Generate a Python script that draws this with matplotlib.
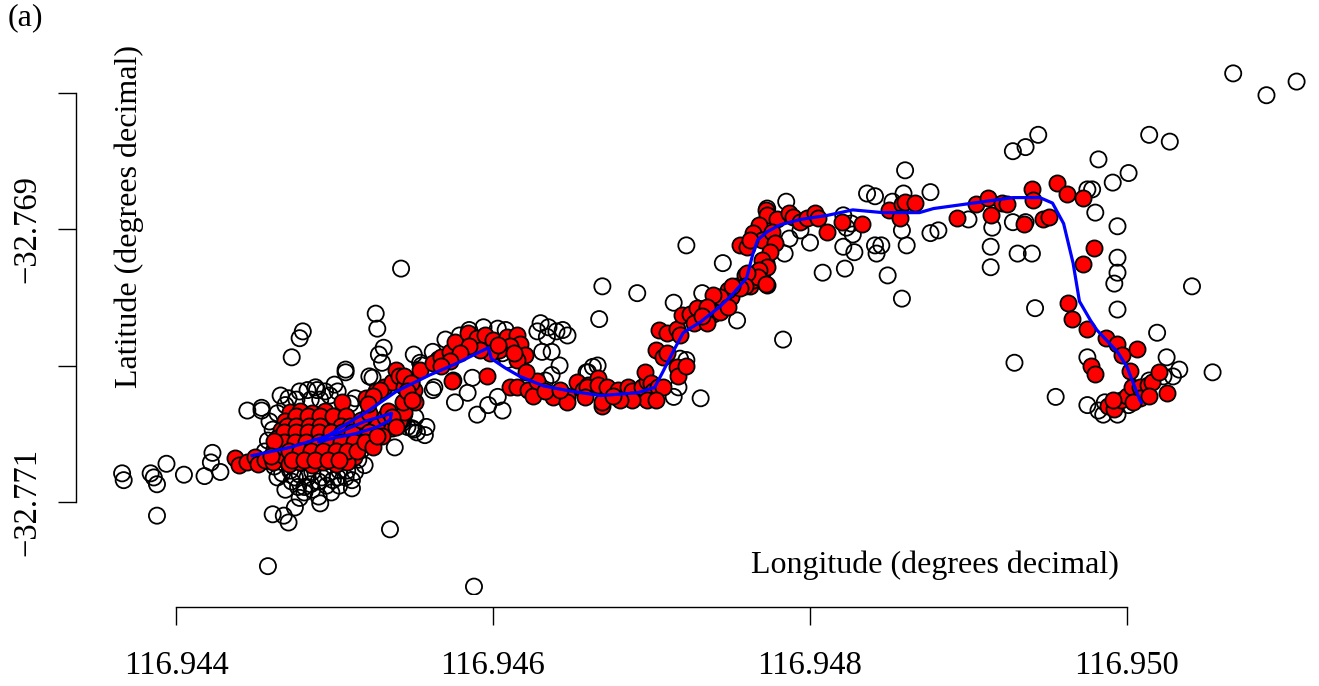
import matplotlib
matplotlib.use("Agg")
import matplotlib.pyplot as plt

plt.rcParams["font.family"] = ["Liberation Serif", "DejaVu Serif"]

# all raw GPS fixes (open circles)
open_lon = [
    116.94366, 116.94367, 116.94384, 116.94386, 116.94388, 116.94394, 116.94405, 116.94418, 116.94423, 116.94422,
    116.94428, 116.94388, 116.94445, 116.94454, 116.94458, 116.94588, 116.94535, 116.94461, 116.94468, 116.94471,
    116.94475, 116.94478, 116.94480, 116.94473, 116.94526, 116.94527, 116.94531, 116.94528, 116.94530, 116.94507,
    116.94542, 116.94471, 116.94483, 116.94488, 116.94500, 116.94507, 116.94522, 116.94454, 116.94464, 116.94461,
    116.94469, 116.94476, 116.94491, 116.94497, 116.94510, 116.94494, 116.94489, 116.94477, 116.94481, 116.94490,
    116.94491, 116.94511, 116.94511, 116.94502, 116.94492, 116.94483, 116.94475, 116.94467, 116.94462, 116.94515,
    116.94478, 116.94486, 116.94496, 116.94503, 116.94473, 116.94485, 116.94495, 116.94503, 116.94481, 116.94498,
    116.94458, 116.94456, 116.94459, 116.94516, 116.94517, 116.94519, 116.94514, 116.94507, 116.94469, 116.94538,
    116.94536, 116.94543, 116.94550, 116.94558, 116.94555, 116.94550, 116.94562, 116.94524, 116.94543, 116.94549,
    116.94551, 116.94563, 116.94576, 116.94584, 116.94590, 116.94597, 116.94603, 116.94606, 116.94575, 116.94587,
    116.94594, 116.94603, 116.94630, 116.94635, 116.94640, 116.94628, 116.94634, 116.94644, 116.94647, 116.94637,
    116.94631, 116.94666, 116.94660, 116.94637, 116.94546, 116.94552, 116.94557, 116.94544, 116.94554, 116.94562,
    116.94606, 116.94609, 116.94570, 116.94579, 116.94585, 116.94608, 116.94642, 116.94633, 116.94669, 116.94691,
    116.94667, 116.94714, 116.94754, 116.94783, 116.94731, 116.94714, 116.94718, 116.94722, 116.94663, 116.94659,
    116.94717, 116.94745, 116.94732, 116.94722, 116.94860, 116.94836, 116.94841, 116.94852, 116.94859, 116.94785,
    116.94773, 116.94800, 116.94821, 116.94823, 116.94827, 116.94821, 116.94828, 116.94841, 116.94845, 116.94842,
    116.94858, 116.94861, 116.94808, 116.94822, 116.94849, 116.94858, 116.94794, 116.94787, 116.94784, 116.94826,
    116.94944, 116.94928, 116.94936, 116.94982, 116.94991, 116.94978, 116.94975, 116.94876, 116.94980, 116.94994,
    116.94900, 116.94876, 116.94881, 116.94915, 116.94928, 116.94936, 116.94914, 116.94931, 116.94940, 116.94914,
    116.94994, 116.94994, 116.94992, 116.94942, 116.94994, 116.95041, 116.95019, 116.94929, 116.94975, 116.95025,
    116.95033, 116.95029, 116.95054, 116.94955, 116.94975, 116.94982, 116.94986, 116.94985, 116.94994, 116.95001,
    116.95014, 116.95023, 116.95067, 116.95088, 116.95107, 116.95014, 116.95027, 116.95001,
    116.94464, 116.94472, 116.94490, 116.94499, 116.94508, 116.94513, 116.94478, 116.94486,
    116.94466, 116.94478, 116.94502, 116.94513, 116.94485,
]
open_lat = [
    -32.77079, -32.77084, -32.77079, -32.77082, -32.77087, -32.77072, -32.77080, -32.77081, -32.77064, -32.77071,
    -32.77078, -32.77110, -32.77033, -32.77033, -32.77147, -32.77162, -32.77120, -32.77109, -32.77110, -32.77115,
    -32.77104, -32.76980, -32.76975, -32.76994, -32.76962, -32.76973, -32.76987, -32.76992, -32.76998, -32.77003,
    -32.76929, -32.77024, -32.77018, -32.77016, -32.77014, -32.77005, -32.77008, -32.77031, -32.77035, -32.77047,
    -32.77029, -32.77025, -32.77025, -32.77022, -32.77028, -32.77019, -32.77018, -32.77089, -32.77089, -32.77096,
    -32.77101, -32.77084, -32.77090, -32.77082, -32.77082, -32.77082, -32.77082, -32.77079, -32.77074, -32.77069,
    -32.77080, -32.77078, -32.77079, -32.77077, -32.77085, -32.77087, -32.77088, -32.77088, -32.77093, -32.77093,
    -32.77055, -32.77063, -32.77041, -32.77052, -32.77062, -32.77073, -32.77044, -32.77082, -32.77091, -32.77060,
    -32.77040, -32.77042, -32.77047, -32.77045, -32.77000, -32.76992, -32.77018, -32.77009, -32.77040, -32.77046,
    -32.77038, -32.77016, -32.77027, -32.77020, -32.77036, -32.77029, -32.77023, -32.77033, -32.77011, -32.77009,
    -32.76972, -32.76973, -32.76969, -32.76972, -32.76975, -32.76975, -32.76979, -32.76974, -32.76978, -32.76990,
    -32.76990, -32.77000, -32.77005, -32.77007, -32.77045, -32.77049, -32.77051, -32.77036, -32.76998, -32.76990,
    -32.76991, -32.76996, -32.76981, -32.76978, -32.76974, -32.76974, -32.77000, -32.77011, -32.76942, -32.76947,
    -32.76966, -32.76954, -32.76967, -32.76981, -32.77024, -32.77023, -32.76995, -32.76996, -32.77001, -32.77005,
    -32.77016, -32.76925, -32.76947, -32.76912, -32.76857, -32.76874, -32.76876, -32.76880, -32.76874, -32.76880,
    -32.76885, -32.76910, -32.76890, -32.76899, -32.76904, -32.76913, -32.76917, -32.76912, -32.76912, -32.76918,
    -32.76901, -32.76912, -32.76932, -32.76929, -32.76934, -32.76951, -32.76901, -32.76907, -32.76918, -32.76896,
    -32.76831, -32.76843, -32.76840, -32.76849, -32.76866, -32.76871, -32.76871, -32.76873, -32.76888, -32.76898,
    -32.76893, -32.76903, -32.76901, -32.76899, -32.76895, -32.76895, -32.76913, -32.76918, -32.76918, -32.76928,
    -32.76921, -32.76932, -32.76940, -32.76958, -32.76959, -32.76942, -32.76976, -32.76998, -32.76994, -32.76994,
    -32.77003, -32.77008, -32.77005, -32.77023, -32.77029, -32.77033, -32.77027, -32.77036, -32.77036, -32.77029,
    -32.77011, -32.77008, -32.76786, -32.76802, -32.76792, -32.76831, -32.76836, -32.76859,
    -32.77082, -32.77077, -32.77085, -32.77084, -32.77077, -32.77078, -32.77097, -32.77091,
    -32.77022, -32.77019, -32.77019, -32.77024, -32.77025,
]

# fixes kept after filtering (red)
kept_lon = [
    116.94437, 116.94440, 116.94445, 116.94450, 116.94452, 116.94456, 116.94461,
    116.94472, 116.94478, 116.94486, 116.94494, 116.94502,
    116.94469, 116.94475, 116.94482, 116.94490, 116.94498, 116.94505, 116.94511,
    116.94466, 116.94473, 116.94479, 116.94487, 116.94495, 116.94502, 116.94509, 116.94514,
    116.94464, 116.94471, 116.94478, 116.94485, 116.94493, 116.94500, 116.94507, 116.94513,
    116.94466, 116.94473, 116.94480, 116.94488, 116.94495, 116.94502, 116.94510, 116.94516,
    116.94468, 116.94476, 116.94483, 116.94490, 116.94498, 116.94505, 116.94512,
    116.94471, 116.94478, 116.94486, 116.94493, 116.94501, 116.94508, 116.94505, 116.94462,
    116.94476, 116.94483, 116.94491, 116.94499, 116.94507,
    116.94470, 116.94476, 116.94484, 116.94491, 116.94504, 116.94510,
    116.94468, 116.94476, 116.94483, 116.94490, 116.94498, 116.94505, 116.94511,
    116.94468, 116.94475, 116.94482, 116.94490, 116.94497, 116.94504, 116.94512,
    116.94471, 116.94478, 116.94485, 116.94493, 116.94501, 116.94508, 116.94514,
    116.94473, 116.94481, 116.94488, 116.94496, 116.94503, 116.94462, 116.94460,
    116.94517, 116.94522, 116.94527, 116.94532, 116.94536, 116.94541, 116.94544, 116.94530, 116.94522, 116.94519,
    116.94524, 116.94534, 116.94520, 116.94526, 116.94531, 116.94536, 116.94539, 116.94541, 116.94548, 116.94544,
    116.94550, 116.94546, 116.94543, 116.94554, 116.94551, 116.94529, 116.94524, 116.94521, 116.94536, 116.94539,
    116.94527, 116.94565, 116.94562,
    116.94567, 116.94573, 116.94576, 116.94584, 116.94590, 116.94595, 116.94600, 116.94609, 116.94615, 116.94617,
    116.94611, 116.94604, 116.94598, 116.94592, 116.94585, 116.94579, 116.94573, 116.94567, 116.94620, 116.94615,
    116.94613, 116.94603, 116.94574, 116.94596, 116.94611, 116.94615, 116.94622, 116.94625, 116.94628, 116.94621,
    116.94638, 116.94647, 116.94647, 116.94653, 116.94657, 116.94660, 116.94666, 116.94669, 116.94544, 116.94548,
    116.94546, 116.94549, 116.94633, 116.94642,
    116.94659, 116.94658, 116.94666, 116.94672, 116.94679, 116.94685, 116.94688, 116.94694, 116.94697, 116.94696,
    116.94700, 116.94701, 116.94704, 116.94707, 116.94697, 116.94703, 116.94688, 116.94680, 116.94669, 116.94676,
    116.94703, 116.94707, 116.94710, 116.94716, 116.94717, 116.94722, 116.94705, 116.94710, 116.94716, 116.94718,
    116.94719, 116.94724, 116.94729, 116.94734, 116.94739, 116.94741, 116.94745, 116.94750, 116.94748, 116.94754,
    116.94759, 116.94762, 116.94764, 116.94770, 116.94772, 116.94773, 116.94727, 116.94735, 116.94743,
    116.94772, 116.94773, 116.94779, 116.94787, 116.94789, 116.94768, 116.94764, 116.94770, 116.94756, 116.94760,
    116.94762, 116.94776, 116.94778, 116.94775, 116.94770, 116.94773, 116.94768, 116.94767, 116.94772, 116.94760,
    116.94759, 116.94756, 116.94751, 116.94743, 116.94748, 116.94739, 116.94735, 116.94732, 116.94794, 116.94798,
    116.94803, 116.94805, 116.94811, 116.94820, 116.94833, 116.94850, 116.94858, 116.94860, 116.94866, 116.94857,
    116.94893, 116.94905, 116.94912, 116.94914, 116.94921, 116.94924, 116.94940, 116.94941, 116.94935, 116.94947,
    116.94951, 116.94956, 116.94962, 116.94972, 116.94979, 116.94972, 116.94963, 116.94965,
    116.94975, 116.94987, 116.94994, 116.94997, 116.95006, 116.94977, 116.94980, 116.95002, 116.94988, 116.94992,
    116.94996, 116.95000, 116.95003, 116.95008, 116.95013, 116.95016, 116.95020, 116.95025, 116.95008, 116.95004,
    116.95014, 116.94991,
]
kept_lat = [
    -32.77068, -32.77073, -32.77071, -32.77067, -32.77072, -32.77069, -32.77071,
    -32.77034, -32.77033, -32.77035, -32.77033, -32.77036,
    -32.77041, -32.77039, -32.77041, -32.77038, -32.77041, -32.77039, -32.77042,
    -32.77047, -32.77046, -32.77048, -32.77045, -32.77047, -32.77046, -32.77048, -32.77045,
    -32.77053, -32.77052, -32.77054, -32.77052, -32.77053, -32.77051, -32.77053, -32.77052,
    -32.77060, -32.77058, -32.77060, -32.77058, -32.77060, -32.77058, -32.77060, -32.77058,
    -32.77066, -32.77065, -32.77067, -32.77064, -32.77066, -32.77065, -32.77067,
    -32.77072, -32.77071, -32.77073, -32.77071, -32.77072, -32.77071, -32.77027, -32.77061,
    -32.77037, -32.77037, -32.77037, -32.77037, -32.77037,
    -32.77044, -32.77044, -32.77044, -32.77044, -32.77044, -32.77044,
    -32.77049, -32.77049, -32.77049, -32.77049, -32.77049, -32.77049, -32.77049,
    -32.77056, -32.77056, -32.77056, -32.77056, -32.77056, -32.77056, -32.77056,
    -32.77063, -32.77063, -32.77063, -32.77063, -32.77063, -32.77063, -32.77063,
    -32.77069, -32.77069, -32.77069, -32.77069, -32.77069, -32.77055, -32.77066,
    -32.77040, -32.77035, -32.77044, -32.77038, -32.77046, -32.77041, -32.77034, -32.77052, -32.77049, -32.77056,
    -32.77060, -32.77033, -32.77024, -32.77019, -32.77016, -32.77012, -32.77003, -32.77008, -32.77011, -32.77016,
    -32.77018, -32.77023, -32.77027, -32.77003, -32.77027, -32.77018, -32.77022, -32.77028, -32.77038, -32.77045,
    -32.77052, -32.76995, -32.76998,
    -32.76994, -32.76990, -32.76983, -32.76976, -32.76980, -32.76978, -32.76981, -32.76979, -32.76978, -32.76984,
    -32.76986, -32.76989, -32.76991, -32.76989, -32.76986, -32.76991, -32.76997, -32.77000, -32.76992, -32.76996,
    -32.76991, -32.76985, -32.77011, -32.77008, -32.77016, -32.77016, -32.77018, -32.77022, -32.77011, -32.77005,
    -32.77023, -32.77022, -32.77027, -32.77012, -32.77018, -32.77014, -32.77009, -32.77030, -32.77008, -32.77013,
    -32.77019, -32.77025, -32.77019, -32.77018,
    -32.77016, -32.77023, -32.77014, -32.77016, -32.77018, -32.77016, -32.77019, -32.77016, -32.77011, -32.77005,
    -32.77013, -32.77019, -32.77016, -32.77016, -32.77025, -32.77025, -32.77025, -32.77025, -32.77027, -32.77022,
    -32.76989, -32.76994, -32.76991, -32.77001, -32.77008, -32.77000, -32.76974, -32.76976, -32.76973, -32.76978,
    -32.76963, -32.76962, -32.76958, -32.76964, -32.76962, -32.76952, -32.76957, -32.76950, -32.76945, -32.76942,
    -32.76934, -32.76942, -32.76937, -32.76932, -32.76925, -32.76941, -32.76969, -32.76969, -32.76961,
    -32.76886, -32.76890, -32.76893, -32.76888, -32.76891, -32.76897, -32.76903, -32.76908, -32.76912, -32.76913,
    -32.76908, -32.76902, -32.76910, -32.76917, -32.76923, -32.76928, -32.76930, -32.76935, -32.76940, -32.76932,
    -32.76942, -32.76943, -32.76942, -32.76950, -32.76957, -32.76948, -32.76957, -32.76964, -32.76895, -32.76892,
    -32.76888, -32.76892, -32.76902, -32.76895, -32.76896, -32.76886, -32.76882, -32.76880, -32.76881, -32.76892,
    -32.76892, -32.76882, -32.76877, -32.76890, -32.76881, -32.76882, -32.76871, -32.76879, -32.76896, -32.76893,
    -32.76891, -32.76866, -32.76874, -32.76877, -32.76914, -32.76926, -32.76954, -32.76966,
    -32.76973, -32.76980, -32.76984, -32.76992, -32.76988, -32.77000, -32.77006, -32.77004, -32.77030, -32.77032,
    -32.77025, -32.77022, -32.77016, -32.77016, -32.77014, -32.77012, -32.77005, -32.77020, -32.77024, -32.77027,
    -32.77022, -32.77025,
]

# smoothed track (blue line)
track_lon = [
    116.94448, 116.94472, 116.94486, 116.94503, 116.94519, 116.94536, 116.94535, 116.94527, 116.94513, 116.94500,
    116.94490, 116.94503, 116.94519, 116.94539, 116.94560, 116.94576, 116.94597, 116.94599, 116.94608, 116.94617,
    116.94632, 116.94650, 116.94668, 116.94691, 116.94702, 116.94707, 116.94714, 116.94720, 116.94731, 116.94743,
    116.94751, 116.94760, 116.94764, 116.94767, 116.94773, 116.94781, 116.94794, 116.94811, 116.94827, 116.94846,
    116.94869, 116.94878, 116.94903, 116.94928, 116.94945, 116.94953, 116.94960, 116.94966, 116.94970, 116.94977,
    116.94981, 116.94994, 116.95000, 116.95004, 116.95008, 116.95009,
]
track_lat = [
    -32.77066, -32.77060, -32.77055, -32.77049, -32.77041, -32.77035, -32.77040, -32.77045, -32.77050, -32.77053,
    -32.77056, -32.77046, -32.77035, -32.77019, -32.77007, -32.76999, -32.76987, -32.76995, -32.77002, -32.77008,
    -32.77015, -32.77019, -32.77022, -32.77020, -32.77016, -32.77005, -32.76989, -32.76976, -32.76968, -32.76957,
    -32.76948, -32.76936, -32.76918, -32.76908, -32.76902, -32.76897, -32.76893, -32.76890, -32.76886, -32.76888,
    -32.76888, -32.76885, -32.76881, -32.76877, -32.76877, -32.76881, -32.76896, -32.76925, -32.76953, -32.76967,
    -32.76974, -32.76990, -32.77001, -32.77013, -32.77025, -32.77027,
]

x_ticks = [116.944, 116.946, 116.948, 116.950]
x_labels = ["116.944", "116.946", "116.948", "116.950"]
y_ticks = [-32.771, -32.770, -32.769, -32.768]
y_labels = ["\u221232.771", "", "\u221232.769", ""]


def gerar_grafico():
    fig = plt.figure(figsize=(13.19, 6.86), dpi=100)
    ax = fig.add_axes([100 / 1319, 91 / 686, 1210 / 1319, 535 / 686])

    ax.scatter(open_lon, open_lat, s=135, facecolors="none",
               edgecolors="black", linewidths=1.3, zorder=2)
    ax.scatter(kept_lon, kept_lat, s=135, facecolors="red",
               edgecolors="black", linewidths=1.3, zorder=3)
    ax.plot(track_lon, track_lat, color="blue", lw=2.3, zorder=4)

    ax.set_xlim(116.9435205, 116.9511546)
    ax.set_ylim(-32.7716813, -32.7677619)

    ax.spines["top"].set_visible(False)
    ax.spines["right"].set_visible(False)
    ax.spines["left"].set_position(("outward", 17.3))
    ax.spines["bottom"].set_position(("outward", 8.6))
    ax.spines["left"].set_bounds(-32.771, -32.768)
    ax.spines["bottom"].set_bounds(116.944, 116.950)
    ax.spines["left"].set_linewidth(1.0)
    ax.spines["bottom"].set_linewidth(1.0)

    ax.set_xticks(x_ticks)
    ax.set_xticklabels(x_labels)
    ax.set_yticks(y_ticks)
    ax.set_yticklabels(y_labels, rotation=90, va="center")
    ax.tick_params(axis="both", direction="out", length=13, width=1.0, labelsize=23.5)
    ax.tick_params(axis="x", pad=18)
    ax.tick_params(axis="y", pad=11)

    fig.text(129 / 1319, 1 - 216 / 686, "Latitude (degrees decimal)",
             rotation=90, ha="center", va="center", fontsize=23)
    fig.text(935 / 1319, 1 - 565 / 686, "Longitude (degrees decimal)",
             ha="center", va="center", fontsize=23)
    fig.text(25 / 1319, 1 - 18 / 686, "(a)", ha="center", va="center", fontsize=23)

    fig.savefig("out.png", dpi=100)


def main():
    gerar_grafico()


if __name__ == "__main__":
    main()
